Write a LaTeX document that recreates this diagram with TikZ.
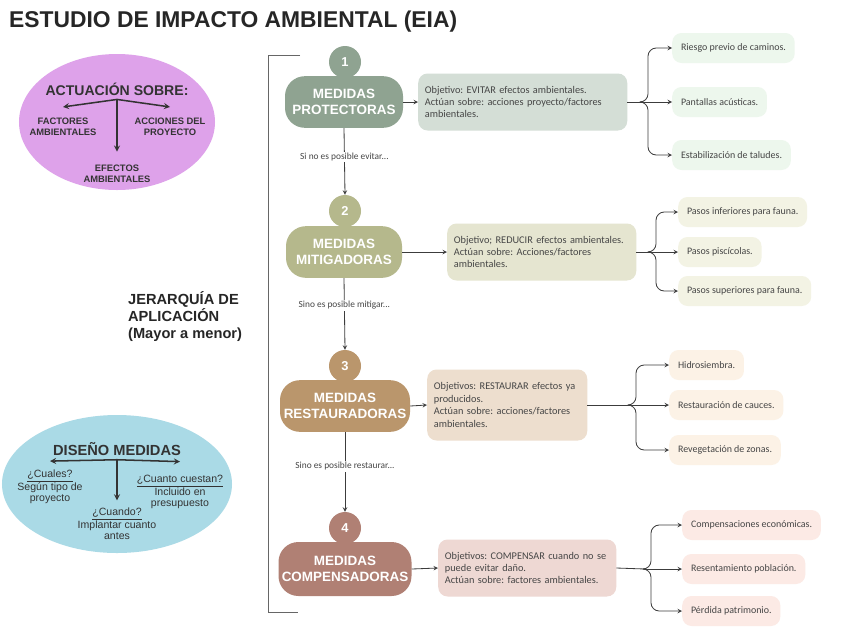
\documentclass[tikz,border=0pt]{standalone}
\usepackage{fontspec}
\setmainfont{Liberation Sans}
\newfontfamily\notefont{Carlito}
\usetikzlibrary{arrows,positioning,shapes.geometric}
\frenchspacing

\definecolor{pillA}{RGB}{143,163,145}
\definecolor{pillB}{RGB}{181,184,140}
\definecolor{pillC}{RGB}{186,150,108}
\definecolor{pillD}{RGB}{176,128,116}
\definecolor{descA}{RGB}{212,222,214}
\definecolor{descB}{RGB}{229,229,208}
\definecolor{descC}{RGB}{237,222,206}
\definecolor{descD}{RGB}{238,216,211}
\definecolor{itemA}{RGB}{237,247,237}
\definecolor{itemB}{RGB}{243,243,228}
\definecolor{itemC}{RGB}{252,242,230}
\definecolor{itemD}{RGB}{252,234,229}
\definecolor{lila}{RGB}{222,162,234}
\definecolor{celeste}{RGB}{170,218,230}
\definecolor{txt}{RGB}{70,70,70}
\definecolor{lnk}{RGB}{60,60,60}

\tikzset{
  pill/.style={rounded corners=17pt, text=white, align=center, minimum height=1.55cm,
    font=\bfseries\fontsize{11.5}{14}\selectfont, inner sep=2pt},
  numdot/.style={circle, minimum size=0.96cm, inner sep=0pt, text=white,
    font=\bfseries\fontsize{11}{12}\selectfont},
  descbox/.style={rounded corners=8pt, anchor=west, align=left, text=txt, inner xsep=0.2cm,
    minimum height=1.71cm, font=\notefont\fontsize{8.8}{10.6}\selectfont},
  itembox/.style={rounded corners=8pt, anchor=west, text=txt, inner xsep=7.5pt,
    minimum height=0.9cm, font=\notefont\fontsize{8.5}{10}\selectfont},
  cond/.style={fill=white, text=txt, inner sep=1pt, font=\notefont\fontsize{8}{9}\selectfont},
  link/.style={draw=lnk, line width=0.7pt, ->, >=stealth},
  bigarrow/.style={draw=black!80, line width=1.3pt, ->, >=stealth},
  lab/.style={align=center, font=\bfseries\fontsize{8}{9.5}\selectfont, text=black!80},
  qlab/.style={align=center, font=\fontsize{9}{9.6}\selectfont, text=black!80},
}

\begin{document}
\begin{tikzpicture}[x=0.03cm, y=-0.03cm]
	\useasboundingbox[fill=white] (0,0) rectangle (848,636);
	\node[anchor=west, text=black!85, font=\bfseries\fontsize{19.5}{22}\selectfont] (title) at (5,22) {ESTUDIO DE IMPACTO AMBIENTAL (EIA)};

	% ellipse: actuacion
	\node[ellipse, fill=lila, minimum width=5.88cm, minimum height=4.08cm] (act) at (117,122) {};
	\node[font=\bfseries\fontsize{12}{14}\selectfont, text=black!80] (acth) at (117,89) {ACTUACIÓN SOBRE:};
	\node[lab] (fa) at (63,127) {FACTORES\\AMBIENTALES};
	\node[lab] (ap) at (170,127) {ACCIONES DEL\\PROYECTO};
	\node[lab] (ef) at (117,174) {EFECTOS\\AMBIENTALES};
	\draw[bigarrow] (acth.south) -- ([yshift=6pt]fa.north);
	\draw[bigarrow] (acth.south) -- ([yshift=6pt]ap.north);
	\draw[bigarrow] (acth.south) -- ([yshift=8pt]ef.north);

	% ellipse: diseno
	\node[ellipse, fill=celeste, minimum width=6.9cm, minimum height=4.14cm] (dis) at (117,484) {};
	\node[font=\bfseries\fontsize{12.5}{14}\selectfont, text=black!80] (dish) at (117,449) {DISEÑO MEDIDAS};
	\node[qlab] (q1) at (50,487) {\underline{¿Cuales?}\\Según tipo de\\proyecto};
	\node[qlab] (q3) at (180,492) {\underline{¿Cuanto cuestan?}\\Incluido en\\presupuesto};
	\node[qlab] (q2) at (117,524) {\underline{¿Cuando?}\\Implantar cuanto\\antes};
	\draw[bigarrow] (dish.south) -- ([yshift=4pt]q1.north);
	\draw[bigarrow] (dish.south) -- ([yshift=8pt]q3.north);
	\draw[bigarrow] (dish.south) -- ([yshift=3pt]q2.north);

	% bracket and hierarchy label
	\draw[black!60, line width=0.8pt] (300,55) -- (268,55) -- (268,612) -- (298,612);
	\node[anchor=west, align=left, text=black!85, font=\bfseries\fontsize{12.5}{14.5}\selectfont] (jer) at (124,317) {JERARQUÍA DE\\APLICACIÓN\\(Mayor a menor)};

	% steps
	\node[numdot, fill=pillA] (n1) at (345,62) {1};
	\node[pill, fill=pillA, minimum width=3.54cm] (m1) at (344,102) {MEDIDAS\\PROTECTORAS};
	\node[numdot, fill=pillB] (n2) at (345,211) {2};
	\node[pill, fill=pillB, minimum width=3.48cm] (m2) at (344,252) {MEDIDAS\\MITIGADORAS};
	\node[numdot, fill=pillC] (n3) at (345,366) {3};
	\node[pill, fill=pillC, minimum width=3.9cm] (m3) at (345,406) {MEDIDAS\\RESTAURADORAS};
	\node[numdot, fill=pillD] (n4) at (345,528) {4};
	\node[pill, fill=pillD, minimum width=3.99cm, minimum height=1.62cm] (m4) at (345,569) {MEDIDAS\\COMPENSADORAS};

	\draw[link] (m1.south) -- (n2.north) node[cond, pos=0.43] {Si no es posible evitar...};
	\draw[link] (m2.south) -- (n3.north) node[cond, pos=0.38] {Sino es posible mitigar...};
	\draw[link] (m3.south) -- (n4.north) node[cond, pos=0.43] {Sino es posible restaurar...};

	% descriptions
	\node[descbox, fill=descA, text width=5.87cm] (d1) at (418,102) {Objetivo: EVITAR efectos ambientales.\\Actúan sobre: acciones proyecto/factores\\ambientales.};
	\node[descbox, fill=descB, text width=5.27cm] (d2) at (447,252) {Objetivo; REDUCIR efectos ambientales.\\Actúan sobre: Acciones/factores\\ambientales.};
	\node[descbox, fill=descC, text width=4.4cm, minimum height=2.13cm] (d3) at (427,405) {Objetivos: RESTAURAR efectos ya\\producidos.\\Actúan sobre: acciones/factores\\ambientales.};
	\node[descbox, fill=descD, text width=4.94cm] (d4) at (438,568) {Objetivos: COMPENSAR cuando no se\\puede evitar daño.\\Actúan sobre: factores ambientales.};
	\draw[link] (m1.east) -- (d1.west);
	\draw[link] (m2.east) -- (d2.west);
	\draw[link] (m3.east) -- (d3.west);
	\draw[link] (m4.east) -- (d4.west);

	% examples 1
	\node[itembox, fill=itemA] (r11) at (672,48) {Riesgo previo de caminos.};
	\node[itembox, fill=itemA] (r12) at (672,102) {Pantallas acústicas.};
	\node[itembox, fill=itemA] (r13) at (672,155) {Estabilización de taludes.};
	\coordinate (j1) at (642,102);
	\draw[lnk, line width=0.7pt] (d1.east) -- (j1);
	\draw[link, rounded corners=7pt] (j1) -- ++(6,0) |- (r11.west);
	\draw[link] (j1) -- (r12.west);
	\draw[link, rounded corners=7pt] (j1) -- ++(6,0) |- (r13.west);

	% examples 2
	\node[itembox, fill=itemB] (r21) at (678,212) {Pasos inferiores para fauna.};
	\node[itembox, fill=itemB] (r22) at (678,252) {Pasos piscícolas.};
	\node[itembox, fill=itemB] (r23) at (678,291) {Pasos superiores para fauna.};
	\coordinate (j2) at (650,252);
	\draw[lnk, line width=0.7pt] (d2.east) -- (j2);
	\draw[link, rounded corners=7pt] (j2) -- ++(6,0) |- (r21.west);
	\draw[link] (j2) -- (r22.west);
	\draw[link, rounded corners=7pt] (j2) -- ++(6,0) |- (r23.west);

	% examples 3
	\node[itembox, fill=itemC] (r31) at (669,365) {Hidrosiembra.};
	\node[itembox, fill=itemC] (r32) at (669,405) {Restauración de cauces.};
	\node[itembox, fill=itemC] (r33) at (669,450) {Revegetación de zonas.};
	\coordinate (j3) at (630,405);
	\draw[lnk, line width=0.7pt] (d3.east) -- (j3);
	\draw[link, rounded corners=7pt] (j3) -- ++(6,0) |- (r31.west);
	\draw[link] (j3) -- (r32.west);
	\draw[link, rounded corners=7pt] (j3) -- ++(6,0) |- (r33.west);

	% examples 4
	\node[itembox, fill=itemD] (r41) at (682,525) {Compensaciones económicas.};
	\node[itembox, fill=itemD] (r42) at (682,569) {Resentamiento población.};
	\node[itembox, fill=itemD] (r43) at (682,611) {Pérdida patrimonio.};
	\coordinate (j4) at (645,569);
	\draw[lnk, line width=0.7pt] (d4.east) -- (j4);
	\draw[link, rounded corners=7pt] (j4) -- ++(6,0) |- (r41.west);
	\draw[link] (j4) -- (r42.west);
	\draw[link, rounded corners=7pt] (j4) -- ++(6,0) |- (r43.west);
\end{tikzpicture}
\end{document}
